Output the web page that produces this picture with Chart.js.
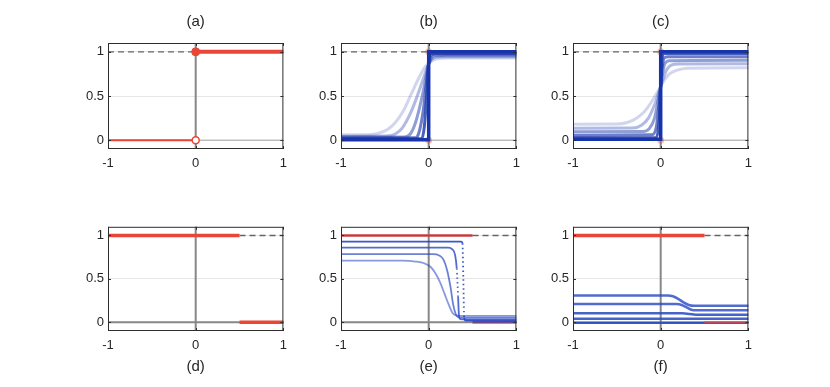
<!DOCTYPE html>
<html><head><meta charset="utf-8">
<script src="https://cdn.jsdelivr.net/npm/chart.js@4/dist/chart.umd.min.js"></script>
<style>
html,body{margin:0;padding:0;background:#fff;width:830px;height:387px;overflow:hidden;position:relative}
canvas{position:absolute}
</style></head><body>
<canvas id="pa"></canvas><canvas id="pb"></canvas><canvas id="pc"></canvas>
<canvas id="pd"></canvas><canvas id="pe"></canvas><canvas id="pf"></canvas>
<script>
// ---------- tick data ----------
const xTicks = [-1, 0, 1];
const xTickLabels = ['-1', '0', '1'];
const yTicks = [0, 0.5, 1];
const yTickLabels = ['0', '0.5', '1'];
const panelTitles = ['(a)', '(b)', '(c)', '(d)', '(e)', '(f)'];

// ---------- reference lines ----------
const zeroVertical = [[0, -0.1], [0, 1.1]];
const zeroHorizontal = [[-1, 0], [1, 0]];
const dashedLeft = [[-1, 1], [0, 1]];
const dashedRight = [[0.5, 1], [1, 1]];
const stepMarks = [[0, 0], [0, 1]];

// ---------- (a) ----------
const aLow = [[-1, 0], [0, 0]];
const aHigh = [[0, 1], [1, 1]];
const aOpen = [[0, 0]];
const aFilled = [[0, 1]];

// ---------- (b) ----------
const bCurve1 = [[-1,0.06],[-0.7,0.062],[-0.58,0.075],[-0.47,0.12],[-0.38,0.2],[-0.29,0.33],[-0.2,0.52],[-0.11,0.71],[-0.04,0.83],[0,0.87],[0.05,0.905],[0.12,0.925],[0.25,0.93],[1,0.93]];
const bCurve2 = [[-1,0.045],[-0.48,0.047],[-0.38,0.07],[-0.3,0.14],[-0.21,0.3],[-0.13,0.5],[-0.06,0.7],[-0.01,0.84],[0.03,0.91],[0.09,0.94],[0.2,0.945],[1,0.945]];
const bCurve3 = [[-1,0.035],[-0.28,0.037],[-0.21,0.07],[-0.15,0.2],[-0.08,0.47],[-0.03,0.72],[0,0.86],[0.03,0.93],[0.08,0.955],[0.2,0.96],[1,0.96]];
const bCurve4 = [[-1,0.025],[-0.15,0.027],[-0.11,0.09],[-0.06,0.35],[-0.03,0.62],[0,0.87],[0.03,0.96],[0.08,0.975],[1,0.975]];
const bCurve5 = [[-1,0.015],[-0.08,0.017],[-0.05,0.15],[-0.02,0.55],[0,0.88],[0.02,0.98],[0.06,0.985],[1,0.985]];
const bStep = [[-1,0.005],[0,0.005],[0,1],[1,1]];

// ---------- (c) ----------
const cCurve1 = [[-1,0.18],[-0.5,0.182],[-0.38,0.2],[-0.28,0.245],[-0.18,0.33],[-0.1,0.44],[-0.04,0.54],[0,0.61],[0.05,0.69],[0.1,0.75],[0.18,0.79],[0.3,0.815],[1,0.82]];
const cCurve2 = [[-1,0.135],[-0.32,0.137],[-0.22,0.17],[-0.14,0.25],[-0.07,0.4],[-0.02,0.55],[0,0.61],[0.03,0.7],[0.07,0.8],[0.12,0.85],[0.2,0.863],[1,0.865]];
const cCurve3 = [[-1,0.095],[-0.2,0.097],[-0.13,0.13],[-0.07,0.25],[-0.03,0.45],[0,0.61],[0.02,0.75],[0.05,0.87],[0.1,0.9],[1,0.905]];
const cCurve4 = [[-1,0.057],[-0.1,0.06],[-0.05,0.15],[-0.02,0.4],[0,0.61],[0.015,0.8],[0.04,0.93],[0.08,0.943],[1,0.943]];
const cCurve5 = [[-1,0.027],[-0.05,0.03],[-0.02,0.2],[0,0.61],[0.015,0.93],[0.04,0.98],[1,0.98]];
const cStep = [[-1,0.01],[0,0.01],[0,1],[1,1]];

// ---------- (d) ----------
const dHigh = [[-1, 1], [0.5, 1]];
const dLow = [[0.5, 0], [1, 0]];

// ---------- (e) ----------
const eCurve1 = [[-1,0.71],[-0.3,0.71],[-0.15,0.7],[-0.05,0.68],[0.02,0.64],[0.08,0.56],[0.13,0.46],[0.18,0.33],[0.23,0.2],[0.27,0.11],[0.31,0.08],[0.36,0.075],[1,0.075]];
const eCurve2 = [[-1,0.785],[0.05,0.785],[0.12,0.77],[0.17,0.72],[0.21,0.6],[0.25,0.4],[0.28,0.2],[0.31,0.09],[0.34,0.058],[0.4,0.055],[1,0.055]];
const eCurve3 = [[-1,0.86],[0.22,0.86],[0.27,0.84],[0.3,0.78],[0.32,0.62],[0.335,0.3],[0.345,0.08],[0.36,0.038],[0.42,0.035],[1,0.035]];
const eCurve4 = [[-1,0.93],[0.37,0.93],[0.385,0.91],[0.395,0.5],[0.405,0.05],[0.42,0.02],[1,0.018]];
const eTopTarget = [[-1, 1], [0.5, 1]];
const eBottomTarget = [[0.5, 0], [1, 0]];

// ---------- (f) ----------
const fCurve1 = [[-1,0.31],[0.08,0.31],[0.14,0.3],[0.2,0.27],[0.26,0.23],[0.32,0.2],[0.38,0.19],[1,0.19]];
const fCurve2 = [[-1,0.21],[0.18,0.21],[0.24,0.2],[0.3,0.17],[0.35,0.145],[0.4,0.138],[1,0.138]];
const fCurve3 = [[-1,0.105],[0.25,0.105],[0.33,0.095],[0.4,0.087],[1,0.087]];
const fCurve4 = [[-1,0.042],[1,0.042]];
const fCurve5 = [[-1,-0.006],[1,-0.006]];
const fTopTarget = [[-1, 1], [0.5, 1]];
const fBottomTarget = [[0.5, 0], [1, 0]];

// ---------- styling helpers ----------
const RED = 'rgb(232,70,55)';
const redA = a => `rgba(232,70,55,${a})`;
const blueA = a => `rgba(24,52,170,${a})`;
const eBlue = a => `rgba(38,70,195,${a})`;
const GRAY = 'rgb(135,135,135)';
const TXT = '#262626';
const FONT = "'Liberation Sans', Arial, Helvetica, sans-serif";

const pts = arr => arr.map(([x, y]) => ({x, y}));
function line(arr, color, width, extra) {
  return Object.assign({data: pts(arr), showLine: true, borderColor: color, borderWidth: width,
    pointRadius: 0, pointHoverRadius: 0, fill: false, tension: 0}, extra || {});
}
function smooth(arr, color, width, extra) {
  return line(arr, color, width, Object.assign({cubicInterpolationMode: 'monotone'}, extra || {}));
}
function dots(arr, fill, stroke, r, bw) {
  return {data: pts(arr), showLine: false, pointRadius: r, pointHoverRadius: r,
    pointBackgroundColor: fill, pointBorderColor: stroke, pointBorderWidth: bw};
}
const dashed = arr => line(arr, 'rgb(100,100,100)', 1.3, {borderDash: [6, 4]});
const steepDots = {borderDash: ctx => {
  const dx = Math.abs(ctx.p1.x - ctx.p0.x), dy = Math.abs(ctx.p1.y - ctx.p0.y);
  return (dy > 20 && dy > 12 * dx) ? [1.5, 3] : undefined;
}};

const framePlugin = {
  id: 'frame',
  afterDatasetsDraw(chart) {
    const {ctx, chartArea: a, scales} = chart;
    ctx.save();
    ctx.strokeStyle = '#2e2e2e';
    ctx.lineWidth = 1;
    ctx.strokeRect(a.left + 0.5, a.top + 0.5, a.right - a.left - 1, a.bottom - a.top - 1);
    ctx.beginPath();
    yTicks.forEach(v => {
      const p = Math.round(scales.y.getPixelForValue(v)) + 0.5;
      ctx.moveTo(a.left, p); ctx.lineTo(a.left + 3, p);
      ctx.moveTo(a.right, p); ctx.lineTo(a.right - 3, p);
    });
    xTicks.forEach(v => {
      const p = Math.round(scales.x.getPixelForValue(v)) + 0.5;
      ctx.moveTo(p, a.bottom); ctx.lineTo(p, a.bottom - 3);
      ctx.moveTo(p, a.top); ctx.lineTo(p, a.top + 3);
    });
    ctx.stroke();
    ctx.restore();
  }
};

function makePanel(id, idx, left, row, datasets) {
  const canvas = document.getElementById(id);
  const W = 40 + 176 + 10;
  const H = row === 0 ? 179 : 171;
  canvas.width = W; canvas.height = H;
  canvas.style.width = W + 'px'; canvas.style.height = H + 'px';
  canvas.style.left = (left - 40) + 'px';
  canvas.style.top = (row === 0 ? 0 : 215) + 'px';
  datasets.forEach((d, i) => { d.order = -i; d.clip = 2; });
  new Chart(canvas, {
    type: 'scatter',
    data: {datasets},
    options: {
      responsive: false, animation: false, devicePixelRatio: 1,
      events: [],
      layout: {padding: {left: 0, right: 10, top: row === 0 ? 0 : 10, bottom: row === 0 ? 0 : 6}},
      plugins: {
        legend: {display: false}, tooltip: {enabled: false},
        title: {display: true, text: panelTitles[idx], position: row === 0 ? 'top' : 'bottom',
          fullSize: false, color: TXT,
          font: {family: FONT, size: 15, weight: 'normal', lineHeight: 1.2},
          padding: row === 0 ? {top: 13, bottom: 12} : {top: 5, bottom: 4}}
      },
      scales: {
        x: {type: 'linear', min: -1, max: 1,
          afterBuildTicks: s => { s.ticks = xTicks.map(v => ({value: v})); },
          afterFit: s => { s.height = row === 0 ? 30 : 22; },
          grid: {display: false, drawTicks: false}, border: {display: false},
          ticks: {padding: 7, maxRotation: 0, autoSkip: false, color: TXT,
            font: {family: FONT, size: 13},
            callback: (v, i) => xTickLabels[i]}},
        y: {type: 'linear', min: -0.1, max: 1.1,
          afterBuildTicks: s => { s.ticks = yTicks.map(v => ({value: v})); },
          afterFit: s => { s.width = 40; },
          grid: {color: '#e6e6e6', drawTicks: false, lineWidth: 1}, border: {display: false},
          ticks: {padding: 4, autoSkip: false, color: TXT,
            font: {family: FONT, size: 13},
            callback: (v, i) => yTickLabels[i]}}
      }
    },
    plugins: [framePlugin]
  });
}

// (a)
makePanel('pa', 0, 108, 0, [
  line(zeroHorizontal, 'rgb(165,165,165)', 1),
  line(zeroVertical, GRAY, 2),
  dashed(dashedLeft),
  line(aLow, RED, 2),
  line(aHigh, RED, 4),
  dots(aOpen, '#ffffff', RED, 3.5, 1.5),
  dots(aFilled, RED, RED, 4, 1)
]);

// (b)
makePanel('pb', 1, 341, 0, [
  line(zeroHorizontal, 'rgb(165,165,165)', 1),
  line(zeroVertical, GRAY, 2),
  dashed(dashedLeft),
  dots(stepMarks, redA(0.35), redA(0.0), 3.5, 0),
  smooth(bCurve1, blueA(0.2), 3),
  smooth(bCurve2, blueA(0.34), 3),
  smooth(bCurve3, blueA(0.48), 3),
  smooth(bCurve4, blueA(0.63), 3),
  smooth(bCurve5, blueA(0.8), 3),
  line(bStep, blueA(1), 3.5)
]);

// (c)
makePanel('pc', 2, 573, 0, [
  line(zeroHorizontal, 'rgb(165,165,165)', 1),
  line(zeroVertical, GRAY, 2),
  dashed(dashedLeft),
  dots(stepMarks, redA(0.35), redA(0.0), 3.5, 0),
  smooth(cCurve1, blueA(0.2), 3),
  smooth(cCurve2, blueA(0.34), 3),
  smooth(cCurve3, blueA(0.48), 3),
  smooth(cCurve4, blueA(0.63), 3),
  smooth(cCurve5, blueA(0.8), 3),
  line(cStep, blueA(1), 3.5)
]);

// (d)
makePanel('pd', 3, 108, 1, [
  line(zeroHorizontal, GRAY, 2),
  line(zeroVertical, GRAY, 2),
  dashed(dashedRight),
  line(dHigh, RED, 3.5),
  line(dLow, RED, 3.5)
]);

// (e)
makePanel('pe', 4, 341, 1, [
  line(zeroHorizontal, GRAY, 2),
  line(zeroVertical, GRAY, 2),
  dashed(dashedRight),
  line(eTopTarget, RED, 2.5),
  line(eBottomTarget, RED, 2.5),
  smooth(eCurve1, eBlue(0.55), 1.8, {segment: steepDots}),
  smooth(eCurve2, eBlue(0.68), 1.8, {segment: steepDots}),
  smooth(eCurve3, eBlue(0.8), 1.8, {segment: steepDots}),
  smooth(eCurve4, eBlue(0.9), 1.8, {segment: steepDots}),
  line(eTopTarget, eBlue(0.45), 1.5),
  line(eBottomTarget, eBlue(0.6), 2)
]);

// (f)
makePanel('pf', 5, 573, 1, [
  line(zeroHorizontal, 'rgb(165,165,165)', 1),
  line(zeroVertical, GRAY, 2),
  dashed(dashedRight),
  line(fTopTarget, RED, 3.5),
  smooth(fCurve1, eBlue(0.8), 2.5),
  smooth(fCurve2, eBlue(0.8), 2.5),
  smooth(fCurve3, eBlue(0.85), 2.5),
  line(fCurve4, eBlue(0.85), 2.5),
  line(fCurve5, eBlue(0.9), 2.5),
  line(fBottomTarget, redA(0.75), 2)
]);
</script>
</body></html>
